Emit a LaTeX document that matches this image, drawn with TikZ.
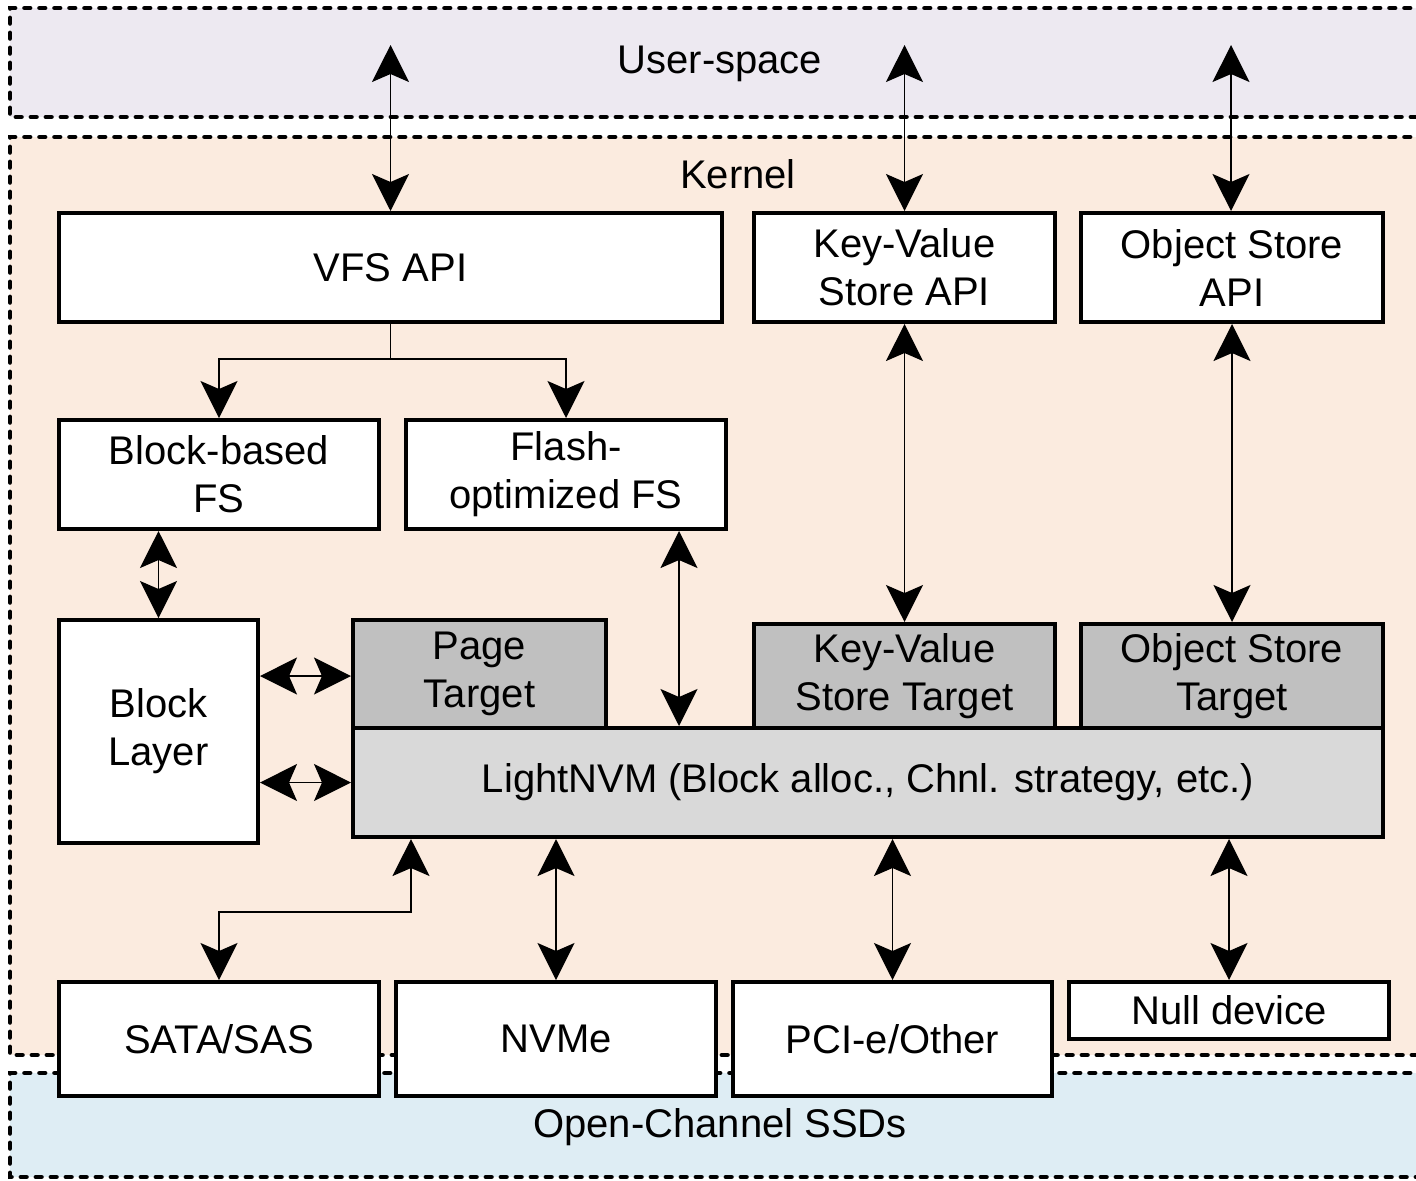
\documentclass[tikz,border=0pt]{standalone}
\usepackage{fontspec}
\setmainfont{Liberation Sans}
\usetikzlibrary{arrows.meta}

\definecolor{userfill}{HTML}{EDE9F1}
\definecolor{kernfill}{HTML}{FBEBDF}
\definecolor{ssdfill}{HTML}{DEEDF4}
\definecolor{targetfill}{HTML}{C0C0C0}
\definecolor{corefill}{HTML}{D9D9D9}

\tikzset{
  band/.style={line width=2.4pt, dash pattern=on 2.7pt off 4.8pt, line cap=round},
  box/.style={draw, line width=2pt, fill=white, align=center, inner sep=0pt,
              font=\fontsize{20}{24}\selectfont},
  target/.style={box, fill=targetfill},
  core/.style={box, fill=corefill},
  bandlabel/.style={font=\fontsize{20}{24}\selectfont, inner sep=0pt},
  link/.style={line width=0.75pt, {Stealth[length=18.5pt,width=18.5pt,inset=4pt]}-{Stealth[length=18.5pt,width=18.5pt,inset=4pt]}},
  feed/.style={line width=0.75pt, -{Stealth[length=18.5pt,width=18.5pt,inset=4pt]}},
}

\begin{document}
\begin{tikzpicture}[x=0.5pt, y=-0.5pt]
\useasboundingbox (0,0) rectangle (1416,1180);

% layer bands, running off the right edge
\begin{scope}
  \clip (0,0) rectangle (1416,1180);
  \fill[userfill] (10,8) rectangle (1440,117);
  \draw[band] (1440,8) -- (10,8) -- (10,117) -- (1440,117);
  \fill[kernfill] (10,137) rectangle (1440,1055);
  \draw[band] (1440,137) -- (10,137) -- (10,1055) -- (1440,1055);
  \fill[ssdfill] (10,1073) rectangle (1440,1177);
  \draw[band] (1440,1073) -- (10,1073) -- (10,1177) -- (1440,1177);
\end{scope}

\node[bandlabel] (lbluser) at (720,64) {User-space};
\node[bandlabel] (lblkern) at (738,174) {Kernel};
\node[bandlabel] (lblssd)  at (720,1127) {Open-Channel SSDs};

% API layer
\node[box, minimum width=331.5pt, minimum height=54.5pt] (vfs)   at (390.5,267.5) {VFS API};
\node[box, minimum width=150.5pt, minimum height=54.5pt] (kvapi) at (904.5,267.5) {Key-Value\\Store API};
\node[box, minimum width=151pt,   minimum height=54.5pt] (oapi)  at (1232,267.5)  {Object Store\\API};

% file systems
\node[box, minimum width=160pt, minimum height=54.5pt] (bfs) at (219,474.5) {Block-based\\FS};
\node[box, minimum width=160pt, minimum height=54.5pt] (ffs) at (566,474.5) {Flash-\\optimized FS};

% block layer and targets
\node[box, minimum width=99.5pt, minimum height=111.5pt] (bl) at (158.5,731.5) {Block\\Layer};
\node[core, minimum width=515pt, minimum height=54.5pt] (lnvm) at (868,782.5) {LightNVM (Block alloc., Chnl. strategy, etc.)};
\node[target, minimum width=126.5pt, minimum height=54pt] (pt)  at (479.5,674) {Page\\Target};
\node[target, minimum width=150.5pt, minimum height=52pt] (kvt) at (904.5,676) {Key-Value\\Store Target};
\node[target, minimum width=151pt,   minimum height=52pt] (ot)  at (1232,676)  {Object Store\\Target};

% devices
\node[box, minimum width=160pt,   minimum height=57pt]   (sata) at (219,1039)   {SATA/SAS};
\node[box, minimum width=160pt,   minimum height=57pt]   (nvme) at (556,1039)   {NVMe};
\node[box, minimum width=159.5pt, minimum height=57pt]   (pcie) at (892.5,1039) {PCI-e/Other};
\node[box, minimum width=160pt,   minimum height=28.5pt] (null) at (1229,1010.5) {Null device};

% free ends and routing columns
\coordinate (u1) at (390.5,45);
\coordinate (u2) at (904.5,45);
\coordinate (u3) at (1231,45);
\coordinate (cffs) at (679,0);
\coordinate (csata) at (411,0);

% user-space to kernel APIs
\draw[link] (u1) -- (vfs.north -| u1);
\draw[link] (u2) -- (kvapi.north -| u2);
\draw[link] (u3) -- (oapi.north -| u3);

% VFS fan-out
\draw[feed] (vfs.south) -- ++(0,35) -| (bfs.north);
\draw[feed] (vfs.south) -- ++(0,35) -| (ffs.north);

% vertical links
\draw[link] (bfs.south -| bl.north) -- (bl.north);
\draw[link] (ffs.south -| cffs) -- (lnvm.north -| cffs);
\draw[link] (kvapi.south) -- (kvt.north);
\draw[link] (oapi.south) -- (ot.north);

% block layer to targets
\draw[link] (bl.east |- 0,676) -- (pt.west |- 0,676);
\draw[link] (bl.east |- lnvm.west) -- (lnvm.west);

% LightNVM to devices
\draw[link] (lnvm.south -| csata) -- ++(0,73) -| (sata.north);
\draw[link] (lnvm.south -| nvme.north) -- (nvme.north);
\draw[link] (lnvm.south -| pcie.north) -- (pcie.north);
\draw[link] (lnvm.south -| null.north) -- (null.north);
\end{tikzpicture}
\end{document}
